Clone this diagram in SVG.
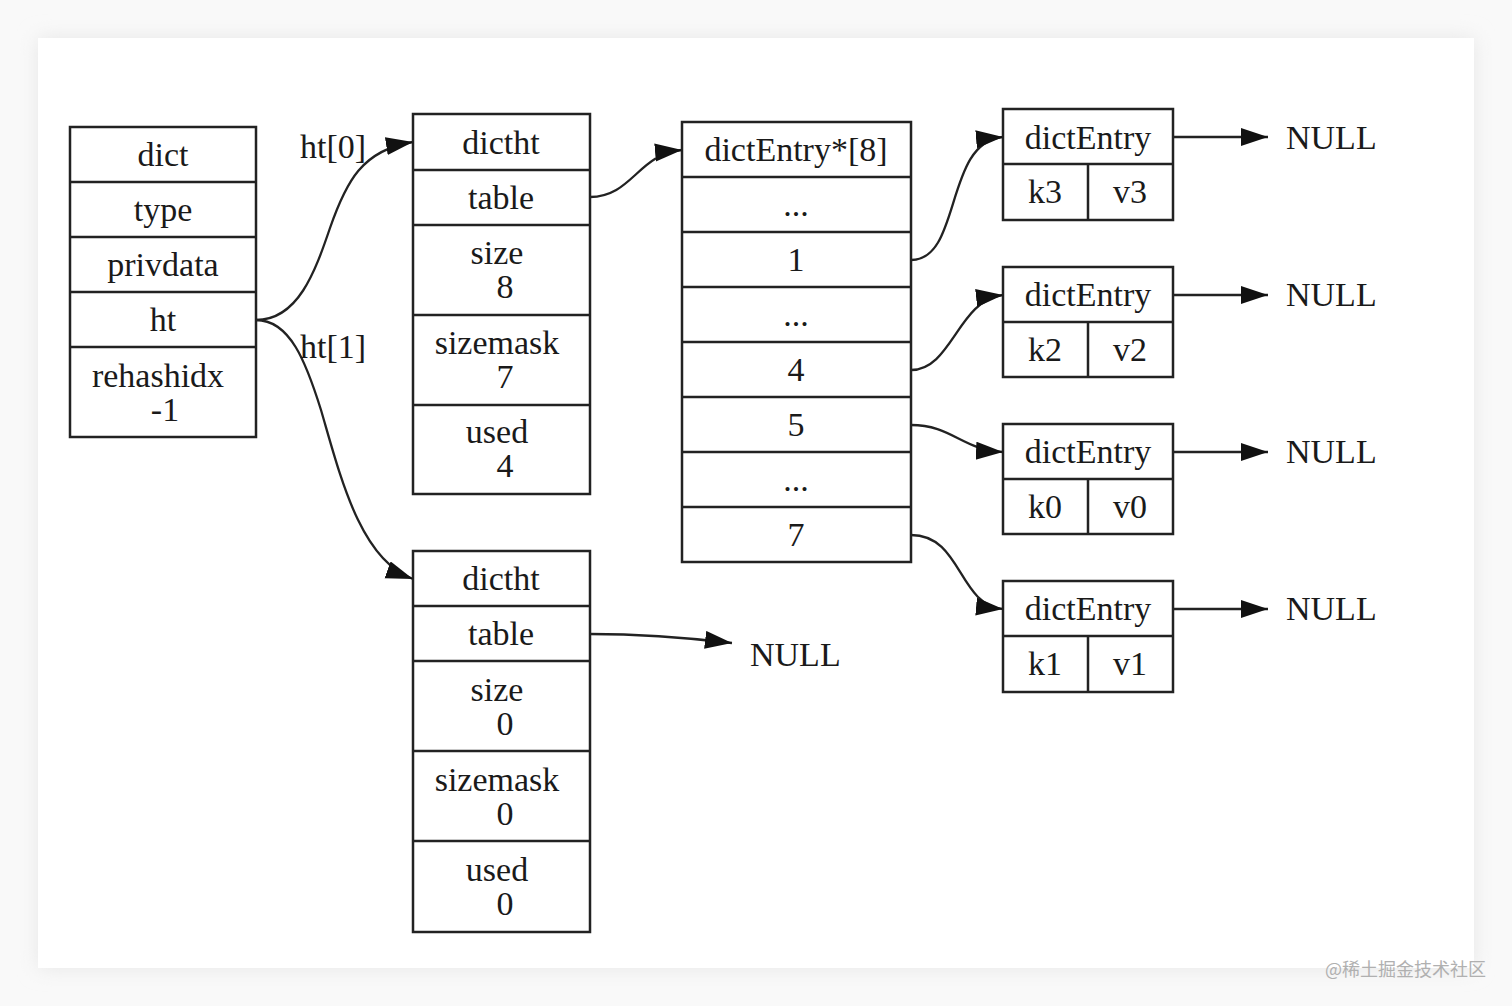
<svg xmlns="http://www.w3.org/2000/svg" width="1512" height="1006" viewBox="0 0 1512 1006">
<style>
.box{fill:#fff;stroke:#222;stroke-width:2.5}
.ln{stroke:#222;stroke-width:2.5;fill:none}
.t{font-family:"Liberation Serif","Times New Roman",serif;font-size:34px;fill:#1a1a1a;text-anchor:middle}
.tl{font-family:"Liberation Serif","Times New Roman",serif;font-size:34px;fill:#1a1a1a}
.e{stroke:#222;stroke-width:2.3;fill:none;marker-end:url(#ah)}
</style>
<defs>
<marker id="ah" markerUnits="userSpaceOnUse" markerWidth="30" markerHeight="20" refX="27" refY="9" orient="auto">
<path d="M0,0 L27,9 L0,18 z" fill="#111"/>
</marker>
<filter id="sh" x="-5%" y="-5%" width="110%" height="110%">
<feGaussianBlur stdDeviation="10"/>
</filter>
</defs>
<rect width="1512" height="1006" fill="#f9f9f9"/>
<rect x="38" y="38" width="1436" height="930" fill="#e6e6e6" filter="url(#sh)"/>
<rect x="38" y="38" width="1436" height="930" fill="#fff"/>

<g id="dict">
<rect class="box" x="70" y="127" width="186" height="310"/>
<path class="ln" d="M70,182H256M70,237H256M70,292H256M70,347H256"/>
<text class="t" x="163" y="166">dict</text>
<text class="t" x="163" y="221">type</text>
<text class="t" x="163" y="276">privdata</text>
<text class="t" x="163" y="331">ht</text>
<text class="t" x="158" y="387">rehashidx</text>
<text class="t" x="165" y="421">-1</text>
</g>

<g id="dictht0">
<rect class="box" x="413" y="114" width="177" height="380"/>
<path class="ln" d="M413,170H590M413,225H590M413,315H590M413,405H590"/>
<text class="t" x="501" y="154">dictht</text>
<text class="t" x="501" y="209">table</text>
<text class="t" x="497" y="264">size</text>
<text class="t" x="505" y="298">8</text>
<text class="t" x="497" y="354">sizemask</text>
<text class="t" x="505" y="388">7</text>
<text class="t" x="497" y="443">used</text>
<text class="t" x="505" y="477">4</text>
</g>

<g id="dictht1">
<rect class="box" x="413" y="551" width="177" height="381"/>
<path class="ln" d="M413,606H590M413,661H590M413,751H590M413,841H590"/>
<text class="t" x="501" y="590">dictht</text>
<text class="t" x="501" y="645">table</text>
<text class="t" x="497" y="701">size</text>
<text class="t" x="505" y="735">0</text>
<text class="t" x="497" y="791">sizemask</text>
<text class="t" x="505" y="825">0</text>
<text class="t" x="497" y="881">used</text>
<text class="t" x="505" y="915">0</text>
</g>

<g id="table">
<rect class="box" x="682" y="122" width="229" height="440"/>
<path class="ln" d="M682,177H911M682,232H911M682,287H911M682,342H911M682,397H911M682,452H911M682,507H911"/>
<text class="t" x="796" y="161">dictEntry*[8]</text>
<text class="t" x="796" y="216">...</text>
<text class="t" x="796" y="271">1</text>
<text class="t" x="796" y="326">...</text>
<text class="t" x="796" y="381">4</text>
<text class="t" x="796" y="436">5</text>
<text class="t" x="796" y="491">...</text>
<text class="t" x="796" y="546">7</text>
</g>

<g id="entry3">
<rect class="box" x="1003" y="109" width="170" height="111"/>
<path class="ln" d="M1003,164H1173M1088,164V220"/>
<text class="t" x="1088" y="149">dictEntry</text>
<text class="t" x="1045" y="203">k3</text>
<text class="t" x="1130" y="203">v3</text>
</g>
<g id="entry2">
<rect class="box" x="1003" y="267" width="170" height="110"/>
<path class="ln" d="M1003,322H1173M1088,322V377"/>
<text class="t" x="1088" y="306">dictEntry</text>
<text class="t" x="1045" y="361">k2</text>
<text class="t" x="1130" y="361">v2</text>
</g>
<g id="entry0">
<rect class="box" x="1003" y="424" width="170" height="110"/>
<path class="ln" d="M1003,479H1173M1088,479V534"/>
<text class="t" x="1088" y="463">dictEntry</text>
<text class="t" x="1045" y="518">k0</text>
<text class="t" x="1130" y="518">v0</text>
</g>
<g id="entry1">
<rect class="box" x="1003" y="581" width="170" height="111"/>
<path class="ln" d="M1003,636H1173M1088,636V692"/>
<text class="t" x="1088" y="620">dictEntry</text>
<text class="t" x="1045" y="675">k1</text>
<text class="t" x="1130" y="675">v1</text>
</g>

<g id="nulls">
<text class="tl" x="1286" y="149">NULL</text>
<text class="tl" x="1286" y="306">NULL</text>
<text class="tl" x="1286" y="463">NULL</text>
<text class="tl" x="1286" y="620">NULL</text>
<text class="tl" x="750" y="666">NULL</text>
</g>

<g id="connectors">
<path class="e" d="M256,320 C298,320 315,272 330,228 C346,182 362,150 413,142"/>
<path class="e" d="M256,320 C290,320 306,362 321,410 C340,475 360,560 413,579"/>
<path class="e" d="M590,197 C632,197 638,154 682,150"/>
<path class="e" d="M911,260 C962,260 944,142 1003,137"/>
<path class="e" d="M911,370 C952,370 958,300 1003,295"/>
<path class="e" d="M911,425 C952,425 962,450 1003,452"/>
<path class="e" d="M911,535 C962,535 958,605 1003,609"/>
<path class="e" d="M590,634 C640,634 690,638 732,643"/>
<path class="e" d="M1173,137H1268"/>
<path class="e" d="M1173,295H1268"/>
<path class="e" d="M1173,452H1268"/>
<path class="e" d="M1173,609H1268"/>
<text class="tl" x="300" y="158">ht[0]</text>
<text class="tl" x="300" y="358">ht[1]</text>
</g>

<text x="1325" y="976" font-family="'Noto Sans CJK SC',sans-serif" font-size="18" fill="#b0b0b0">@稀土掘金技术社区</text>
</svg>
